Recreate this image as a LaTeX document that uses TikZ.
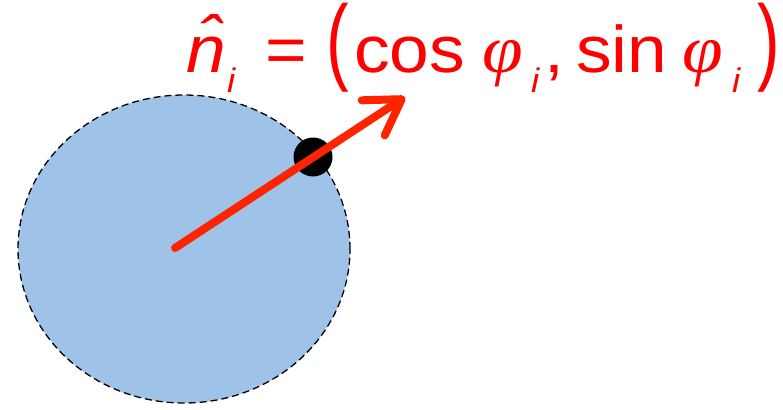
\documentclass[tikz,border=0pt]{standalone}
\usepackage{fontspec}
\setmainfont{Liberation Sans}
\newfontfamily\grkfont{Liberation Serif}
\usepackage{tikz}
\usetikzlibrary{positioning,arrows.meta,shapes.geometric}
\definecolor{discblue}{HTML}{9FC3E8}
\definecolor{vecred}{HTML}{FF2400}
\definecolor{eqred}{HTML}{FF0000}
\tikzset{
  disc/.style={ellipse, draw=black, dash pattern=on 7pt off 4pt, line width=1.3pt, fill=discblue, inner sep=0pt},
  site/.style={circle, fill=black, minimum size=39pt, inner sep=0pt},
  vec arr/.style={-{Straight Barb[length=34pt, width=42pt, round]}, line width=8pt, vecred, line cap=round},
  eq/.style={text=eqred, inner sep=0pt, font=\fontsize{66}{70}\selectfont},
}
% one piece of the formula in a box of fixed width, stretched like the rest of the picture
\newcommand{\pc}[2]{\makebox[#1pt][l]{\scalebox{1.08}[1]{#2}}}
\newcommand{\subi}{\raisebox{-20pt}{\fontsize{34}{36}\selectfont\itshape i}}
\newcommand{\phii}{{\grkfont\itshape\fontsize{68}{72}\selectfont φ}}
\newcommand{\tallpar}[1]{\scalebox{0.95}[1.45]{#1}}

\begin{document}
\begin{tikzpicture}[x=1pt, y=-1pt]
  \useasboundingbox (0,0) rectangle (783,409);
  % disc and the site on its rim
  \node[disc, minimum width=332pt, minimum height=308pt] (dk) at (184,249) {};
  \node[site] (st) at (313,157) {};
  % unit vector through the site
  \coordinate (o) at (175,248);
  \coordinate (tp) at (405,97);
  \draw[vec arr] (o) -- (tp);
  % formula
  \node[eq, anchor=base west] (nh) at (186,73) {%
    \pc{41}{\textit{\^n}}\pc{38}{\subi}\pc{61.5}{=}\pc{27.5}{\tallpar{(}}%
    \pc{128}{cos}\pc{49}{\phii}\pc{13}{\subi}\pc{32}{,}%
    \pc{106}{sin}\pc{50}{\phii}\pc{25}{\subi}\pc{20}{\tallpar{)}}};
\end{tikzpicture}
\end{document}
